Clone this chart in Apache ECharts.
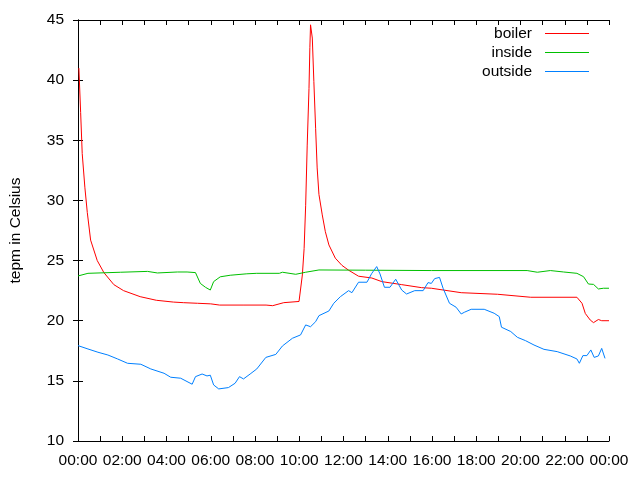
<!DOCTYPE html>
<html>
<head>
<meta charset="utf-8">
<script src="https://cdn.jsdelivr.net/npm/echarts@6/dist/echarts.min.js"></script>
<style>
html,body{margin:0;padding:0;background:#fff;}
#main{width:640px;height:480px;}
</style>
</head>
<body>
<div id="main"></div>
<script>
// [hour of day, temperature]
var boiler = [[0.04,41.0],[0.12,37.3],[0.19,33.9],[0.31,31.1],[0.42,29.0],[0.57,26.7],[0.87,25.0],[1.17,24.0],[1.62,23.0],[2.06,22.5],[2.81,22.0],[3.54,21.7],[4.31,21.55],[4.76,21.5],[5.4,21.45],[6.0,21.4],[6.4,21.3],[7.5,21.3],[8.5,21.3],[8.8,21.25],[9.3,21.5],[9.99,21.6],
  [10.14,23.8],[10.22,26.0],[10.29,29.6],[10.36,34.6],[10.44,39.3],[10.48,42.7],[10.51,44.6],[10.59,43.5],[10.66,39.9],[10.74,36.0],[10.81,32.7],[10.89,30.5],[11.04,28.8],[11.18,27.4],[11.34,26.3],[11.63,25.2],[11.93,24.6],[12.23,24.2],[12.68,23.7],[13.28,23.55],
  [13.73,23.25],[14.63,23.0],[15.52,22.75],[15.97,22.7],[17.32,22.33],[18.96,22.2],[20.46,21.95],[22.55,21.95],[22.78,21.45],[22.93,20.6],[23.15,20.06],[23.3,19.84],[23.52,20.1],[23.67,20.0],[24.0,20.0]];
var inside = [[0,23.72],[0.45,23.94],[1.93,24.03],[3.14,24.1],[3.59,23.97],[4.49,24.05],[4.93,24.05],[5.31,24.0],[5.53,23.1],[5.76,22.78],[5.98,22.55],[6.13,23.25],[6.43,23.65],[6.88,23.78],[7.63,23.9],[8.08,23.94],[9.1,23.94],[9.24,24.03],[9.84,23.86],[10.29,24.03],[10.89,24.22],[13.0,24.2],[15.97,24.17],
  [20.3,24.17],[20.76,24.03],[21.35,24.17],[21.95,24.05],[22.55,23.94],[22.85,23.66],[23.07,23.05],[23.3,23.02],[23.52,22.64],[23.75,22.7],[24.0,22.7]];
var outside = [[0,17.93],[0.45,17.65],[0.9,17.38],[1.35,17.15],[1.79,16.82],[2.24,16.46],[2.84,16.38],[3.29,15.99],[3.89,15.63],[4.19,15.3],[4.64,15.22],[5.16,14.72],[5.31,15.35],[5.61,15.57],[5.83,15.41],[5.98,15.47],[6.13,14.66],[6.36,14.33],[6.8,14.44],[7.1,14.8],[7.3,15.35],[7.48,15.16],[7.78,15.57],[8.08,15.99],
  [8.49,16.95],[8.94,17.2],[9.24,17.9],[9.69,18.54],[10.06,18.82],[10.29,19.65],[10.51,19.5],[10.74,19.92],[10.89,20.42],[11.34,20.81],[11.56,21.45],[11.86,22.0],[12.23,22.5],[12.38,22.33],[12.68,23.2],[13.06,23.2],[13.28,23.94],[13.5,24.5],[13.65,23.89],[13.85,22.78],[14.1,22.78],[14.36,23.45],[14.63,22.55],[14.85,22.22],[15.22,22.5],[15.6,22.5],[15.82,23.17],[15.97,23.1],
  [16.12,23.5],[16.34,23.6],[16.5,22.7],[16.79,21.45],[17.09,21.12],[17.32,20.56],[17.46,20.7],[17.77,20.95],[18.36,20.95],[18.81,20.62],[19.04,20.34],[19.14,19.46],[19.56,19.1],[19.86,18.62],[20.23,18.34],[20.61,17.98],[21.06,17.62],[21.66,17.43],[22.25,17.07],[22.55,16.82],[22.66,16.46],[22.82,17.1],[23.0,17.1],[23.18,17.57],[23.33,16.95],[23.52,17.07],[23.67,17.7],[23.82,16.87]];
var seriesNames = ['boiler','inside','outside'];
var seriesColors = ['#ff0000','#00c000','#0080ff'];

var chart = echarts.init(document.getElementById('main'));
var font = 'Liberation Sans, Arial, sans-serif';
function hourLabel(v){
  if (v % 2 !== 0) return '';
  var h = v % 24;
  return (h < 10 ? '0' + h : '' + h) + ':00';
}
var tickStyle = {show:true, inside:true, length:5, lineStyle:{color:'#000', width:1}};
var lineStyleAxis = {show:true, lineStyle:{color:'#000', width:1}};

var option = {
  animation:false,
  backgroundColor:'#fff',
  textStyle:{fontFamily:font},
  grid:{left:74, right:31, top:20, bottom:39, containLabel:false},
  legend:{
    orient:'vertical', right:51, top:25, align:'right', padding:0,
    icon:'rect', itemWidth:44, itemHeight:1, itemGap:2,
    textStyle:{fontSize:15.5, color:'#000', fontFamily:font, lineHeight:17, padding:[0,8,0,0]},
    data:seriesNames.map(function(n, i){
      return {name:n, itemStyle:{color:seriesColors[i]}};
    })
  },
  xAxis:[
    {type:'value', min:0, max:24, interval:1, position:'bottom',
     axisLine:lineStyleAxis, axisTick:tickStyle, splitLine:{show:false},
     axisLabel:{formatter:hourLabel, fontSize:15.5, color:'#000', margin:12, showMinLabel:true, showMaxLabel:true}},
    {type:'value', min:0, max:24, interval:1, position:'top',
     axisLine:lineStyleAxis, axisTick:tickStyle, splitLine:{show:false}, axisLabel:{show:false}}
  ],
  yAxis:[
    {type:'value', min:10, max:45, interval:5, position:'left',
     name:'tepm in Celsius', nameLocation:'middle', nameGap:54,
     nameTextStyle:{fontSize:15.5, color:'#000', fontFamily:font},
     axisLine:lineStyleAxis, axisTick:tickStyle, splitLine:{show:false},
     axisLabel:{fontSize:15.5, color:'#000', margin:14}},
    {type:'value', min:10, max:45, interval:5, position:'right',
     axisLine:lineStyleAxis, axisTick:tickStyle, splitLine:{show:false}, axisLabel:{show:false}}
  ],
  series:[
    {name:seriesNames[0], data:boiler},
    {name:seriesNames[1], data:inside},
    {name:seriesNames[2], data:outside}
  ].map(function(s, i){
    return {
      name:s.name, type:'line', data:s.data, xAxisIndex:0, yAxisIndex:0,
      showSymbol:false, symbol:'none', silent:true,
      itemStyle:{color:seriesColors[i]},
      lineStyle:{color:seriesColors[i], width:1}
    };
  })
};
chart.setOption(option);
</script>
</body>
</html>
